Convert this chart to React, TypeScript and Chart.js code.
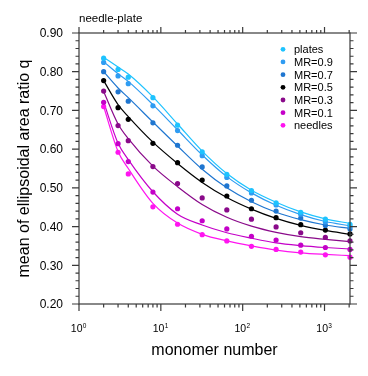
import React, { useEffect, useRef } from "react";
import { Chart, registerables } from "chart.js";

Chart.register(...registerables);

const MONOMERS = [2, 3, 4, 8, 16, 32, 64, 128, 256, 512, 1024, 2048];

const SERIES_LABELS = ["plates", "MR=0.9", "MR=0.7", "MR=0.5", "MR=0.3", "MR=0.1", "needles"];
const SERIES_COLORS = ["#1ec3ff", "#2f9cf2", "#1f76d0", "#000000", "#8a0a8a", "#c400c8", "#ff14f0"];

// measured points
const PLATES = [0.835, 0.806, 0.786, 0.733, 0.662, 0.593, 0.535, 0.493, 0.461, 0.437, 0.419, 0.406];
const MR09 = [0.824, 0.789, 0.769, 0.712, 0.648, 0.583, 0.527, 0.487, 0.456, 0.432, 0.412, 0.4];
const MR07 = [0.8, 0.748, 0.724, 0.668, 0.61, 0.554, 0.505, 0.468, 0.44, 0.422, 0.403, 0.394];
const MR05 = [0.777, 0.707, 0.677, 0.615, 0.565, 0.52, 0.479, 0.446, 0.423, 0.405, 0.391, 0.381];
const MR03 = [0.75, 0.661, 0.622, 0.555, 0.511, 0.474, 0.443, 0.419, 0.399, 0.384, 0.372, 0.363];
const MR01 = [0.721, 0.614, 0.568, 0.489, 0.446, 0.415, 0.394, 0.375, 0.365, 0.352, 0.346, 0.341];
const NEEDLES = [0.71, 0.592, 0.536, 0.451, 0.406, 0.379, 0.363, 0.349, 0.341, 0.334, 0.327, 0.321];

// fitted curves at the same monomer numbers
const FIT_PLATES = [0.837, 0.812, 0.794, 0.735, 0.665, 0.595, 0.537, 0.494, 0.463, 0.438, 0.42, 0.408];
const FIT_MR09 = [0.826, 0.795, 0.775, 0.715, 0.65, 0.585, 0.529, 0.487, 0.455, 0.431, 0.413, 0.402];
const FIT_MR07 = [0.8, 0.758, 0.733, 0.67, 0.608, 0.548, 0.5, 0.464, 0.437, 0.418, 0.404, 0.395];
const FIT_MR05 = [0.777, 0.715, 0.684, 0.618, 0.563, 0.514, 0.475, 0.445, 0.421, 0.403, 0.39, 0.38];
const FIT_MR03 = [0.749, 0.665, 0.627, 0.556, 0.503, 0.457, 0.424, 0.401, 0.385, 0.374, 0.367, 0.361];
const FIT_MR01 = [0.722, 0.615, 0.573, 0.49, 0.432, 0.404, 0.384, 0.37, 0.358, 0.351, 0.346, 0.342];
const FIT_NEEDLES = [0.71, 0.594, 0.55, 0.46, 0.409, 0.38, 0.363, 0.35, 0.339, 0.332, 0.328, 0.325];

const POINT_SERIES = [PLATES, MR09, MR07, MR05, MR03, MR01, NEEDLES];
const FIT_SERIES = [FIT_PLATES, FIT_MR09, FIT_MR07, FIT_MR05, FIT_MR03, FIT_MR01, FIT_NEEDLES];

const Y_TICKS = [0.2, 0.3, 0.4, 0.5, 0.6, 0.7, 0.8, 0.9];
const X_TICKS = [1, 10, 100, 1000];
const X_TICK_EXP = ["0", "1", "2", "3"];

const TITLE = "needle-plate";
const X_TITLE = "monomer number";
const Y_TITLE = "mean of ellipsoidal area ratio q";

const FONT = '"Liberation Sans", Arial, Helvetica, sans-serif';
const AXIS_COLOR = "#3a3a3a";

const framePlugin = {
  id: "nclFrame",
  afterDatasetsDraw(chart: any) {
    const { ctx, chartArea } = chart;
    const { left, right, top, bottom } = chartArea;
    const xs = chart.scales.x;
    const ys = chart.scales.y;
    ctx.save();
    ctx.strokeStyle = AXIS_COLOR;
    ctx.lineWidth = 1.2;
    ctx.strokeRect(left, top, right - left, bottom - top);

    ctx.beginPath();
    const yMin = ys.min, yMax = ys.max;
    for (let i = 0; i <= Math.round((yMax - yMin) / 0.02); i++) {
      const v = yMin + i * 0.02;
      const py = ys.getPixelForValue(v);
      const major = i % 5 === 0;
      const len = major ? 7 : 3.5;
      ctx.moveTo(left - len, py);
      ctx.lineTo(left, py);
      ctx.moveTo(right, py);
      ctx.lineTo(right + len, py);
    }
    for (let e = 0; e <= 3; e++) {
      for (let k = 1; k <= 9; k++) {
        const v = k * Math.pow(10, e);
        if (v > xs.max) continue;
        const px = xs.getPixelForValue(v);
        const major = k === 1;
        ctx.moveTo(px, bottom);
        ctx.lineTo(px, bottom + (major ? 7 : 3.5));
        ctx.moveTo(px, top);
        ctx.lineTo(px, top - (major ? 6 : 3));
      }
    }
    ctx.stroke();

    ctx.fillStyle = "#000";
    ctx.font = `12px ${FONT}`;
    ctx.textAlign = "right";
    ctx.textBaseline = "alphabetic";
    Y_TICKS.forEach((v) => {
      const py = ys.getPixelForValue(v);
      ctx.fillText(v.toFixed(2), left - 16, py + 4.3);
    });

    X_TICKS.forEach((v, i) => {
      const px = xs.getPixelForValue(v);
      ctx.font = `10.5px ${FONT}`;
      const wBase = ctx.measureText("10").width;
      ctx.font = `6.5px ${FONT}`;
      const wSup = ctx.measureText(X_TICK_EXP[i]).width;
      const start = px - (wBase + wSup) / 2 - 0.5;
      ctx.textAlign = "left";
      ctx.font = `10.5px ${FONT}`;
      ctx.fillText("10", start, 331.7);
      ctx.font = `6.5px ${FONT}`;
      ctx.fillText(X_TICK_EXP[i], start + wBase + 0.3, 328.3);
    });

    ctx.font = `11.5px ${FONT}`;
    ctx.textAlign = "left";
    ctx.fillText(TITLE, left, 21.5);

    ctx.font = `16px ${FONT}`;
    ctx.textAlign = "center";
    ctx.fillText(X_TITLE, (left + right) / 2, 355);

    ctx.save();
    ctx.translate(28.5, (top + bottom) / 2);
    ctx.rotate(-Math.PI / 2);
    ctx.textAlign = "center";
    ctx.fillText(Y_TITLE, 0, 0);
    ctx.restore();

    ctx.font = `11px ${FONT}`;
    ctx.textAlign = "left";
    SERIES_LABELS.forEach((lab, i) => {
      const cy = 49.3 + i * 12.67;
      ctx.fillStyle = SERIES_COLORS[i];
      ctx.beginPath();
      ctx.arc(283, cy, 2.4, 0, Math.PI * 2);
      ctx.fill();
      ctx.fillStyle = "#000";
      ctx.fillText(lab, 294, cy + 4);
    });
    ctx.restore();
  },
};

export default function App() {
  const ref = useRef<HTMLCanvasElement | null>(null);
  useEffect(() => {
    if (!ref.current) return;
    const pointSets = POINT_SERIES.map((vals, i) => ({
      label: SERIES_LABELS[i],
      data: MONOMERS.map((m, j) => ({ x: m, y: vals[j] })),
      showLine: false,
      pointRadius: 2.6,
      pointBorderWidth: 0,
      pointBackgroundColor: SERIES_COLORS[i],
      borderColor: SERIES_COLORS[i],
      order: 0,
      clip: false as any,
    }));
    const fitSets = FIT_SERIES.map((vals, i) => ({
      label: SERIES_LABELS[i] + " fit",
      data: MONOMERS.map((m, j) => ({ x: m, y: vals[j] })),
      showLine: true,
      pointRadius: 0,
      borderWidth: 1.2,
      borderColor: SERIES_COLORS[i],
      backgroundColor: SERIES_COLORS[i],
      cubicInterpolationMode: "monotone" as const,
      fill: false,
      order: 1,
      clip: false as any,
    }));
    const chart = new Chart(ref.current, {
      type: "line",
      data: { datasets: [...fitSets, ...pointSets] as any },
      options: {
        animation: false,
        responsive: false,
        maintainAspectRatio: false,
        events: [],
        layout: { padding: { left: 79, right: 18, top: 33, bottom: 72 } },
        scales: {
          x: { type: "logarithmic", min: 1, max: 2048, display: false },
          y: { type: "linear", min: 0.2, max: 0.9, display: false },
        },
        plugins: { legend: { display: false }, tooltip: { enabled: false } },
      },
      plugins: [framePlugin],
    });
    return () => chart.destroy();
  }, []);
  return (
    <div style={{ position: "absolute", left: 0, top: 0, width: 368, height: 376, background: "#fff" }}>
      <canvas ref={ref} width={368} height={376} style={{ width: 368, height: 376, display: "block" }} />
    </div>
  );
}
